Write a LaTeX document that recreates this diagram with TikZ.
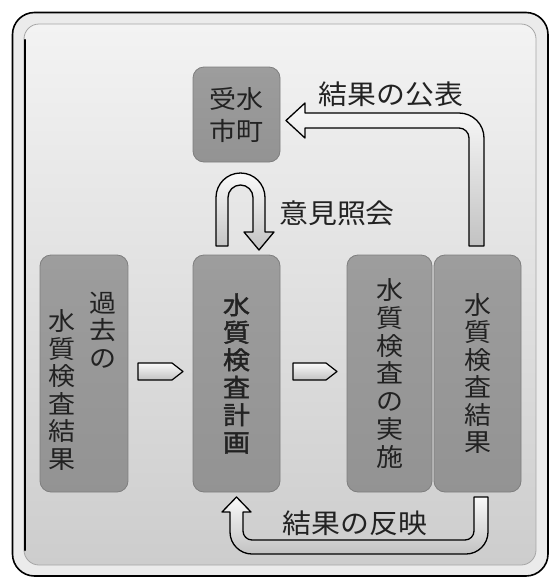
\documentclass[tikz,border=0pt]{standalone}
\usepackage{fontspec}
\setmainfont{Noto Sans CJK JP}
\newfontfamily\jpfont[FakeStretch=1.08]{Noto Sans CJK JP}
\newfontfamily\jplbl[FakeStretch=1.07]{Noto Sans CJK JP}
\newfontfamily\jpbold[FakeBold=1.6,FakeStretch=1.08]{Noto Sans CJK JP}
\definecolor{txtc}{HTML}{222222}
\definecolor{boxline}{HTML}{7E7E7E}
\definecolor{bgtop}{HTML}{F3F3F3}
\definecolor{bgbot}{HTML}{CDCDCD}
\definecolor{arrtop}{HTML}{FAFAFA}
\definecolor{arrbot}{HTML}{C2C2C2}
\pgfdeclareverticalshading{boxshade}{100bp}{%
  color(0bp)=(black!50); color(4bp)=(black!45); color(15bp)=(black!43);
  color(70bp)=(black!39); color(93bp)=(black!35); color(97bp)=(black!22);
  color(100bp)=(black!30)}
\tikzset{
  boxst/.style={draw=boxline, line width=0.8pt, rounded corners=11pt,
    shading=boxshade, inner sep=0pt, text=txtc},
  vtext/.style={align=center, inner sep=0pt, text=txtc,
    font=\jpfont\fontsize{25}{27.5}\selectfont},
  lbl/.style={inner sep=0pt, text=txtc, font=\jplbl\fontsize{27}{30}\selectfont},
  fatarrow/.style={draw=black, line width=1.3pt, line join=round,
    top color=arrtop, bottom color=arrbot}
}
\begin{document}
\begin{tikzpicture}[x=1pt,y=-1pt]
\useasboundingbox (0,0) rectangle (551,579);
% frame
\draw[line width=1.6pt, fill=white!92!black, rounded corners=22pt] (12.5,12.5) rectangle (548,576);
\draw[draw=gray!70, line width=0.8pt, top color=bgtop, bottom color=bgbot, rounded corners=15pt] (24,24) rectangle (536,565);
\draw[line width=2.4pt, line cap=round] (25.2,40) -- (25.2,550);
% boxes
\node[boxst, minimum width=88pt, minimum height=237pt] (kako) at (84,373.5) {};
\node[vtext] (kakoA) at (103,330) {過\\去\\の};
\node[vtext] (kakoB) at (62,390) {水\\質\\検\\査\\結\\果};
\node[boxst, minimum width=87pt, minimum height=237pt, align=center,
  font=\jpbold\fontsize{25}{27.5}\selectfont] (keikaku) at (236.5,373.5) {水\\質\\検\\査\\計\\画};
\node[boxst, minimum width=85pt, minimum height=237pt, align=center,
  font=\jpfont\fontsize{25}{27.8}\selectfont] (jisshi) at (389.5,373.5) {水\\質\\検\\査\\の\\実\\施};
\node[boxst, minimum width=87pt, minimum height=237pt, align=center,
  font=\jpfont\fontsize{25}{27.5}\selectfont] (kekka) at (477.5,373.5) {水\\質\\検\\査\\結\\果};
\node[boxst, minimum width=87pt, minimum height=95pt, align=center,
  font=\jpfont\fontsize{25}{32}\selectfont] (jusui) at (236.5,114.5) {受水\\市町};
% small arrows
\draw[fatarrow, line width=1.2pt] (138,363) -- (172,363) -- (183,371.5) -- (172,380) -- (138,380) -- cycle;
\draw[fatarrow, line width=1.2pt] (293,363) -- (326,363) -- (337,371.5) -- (326,380) -- (293,380) -- cycle;
% publication arrow
\draw[fatarrow] (469,246) [rounded corners=10pt] -- (469,128) [sharp corners] -- (305,128) -- (305,138)
  -- (286,120.5) -- (305,103) -- (305,113) [rounded corners=25pt] -- (484,113) [sharp corners] -- (484,246) -- cycle;
% U arrow
\draw[fatarrow] (216,246) [rounded corners=24.5pt] -- (216,173) -- (265,173) [sharp corners] -- (265,232)
  -- (274,232) -- (259,250) -- (244,232) -- (253,232) [rounded corners=12.5pt] -- (253,185) -- (228,185)
  [sharp corners] -- (228,246) -- cycle;
% feedback arrow
\draw[fatarrow] (474,497) -- (488,497) [rounded corners=22pt] -- (488,554) -- (230,554) [sharp corners]
  -- (230,512) -- (222,512) -- (236.5,497) -- (251,512) -- (243,512) [rounded corners=9pt] -- (243,540)
  -- (474,540) [sharp corners] -- cycle;
% labels
\node[lbl] (pub) at (391,94) {結果の公表};
\node[lbl] (iken) at (337,213) {意見照会};
\node[lbl] (hanei) at (355,523) {結果の反映};
\end{tikzpicture}
\end{document}
